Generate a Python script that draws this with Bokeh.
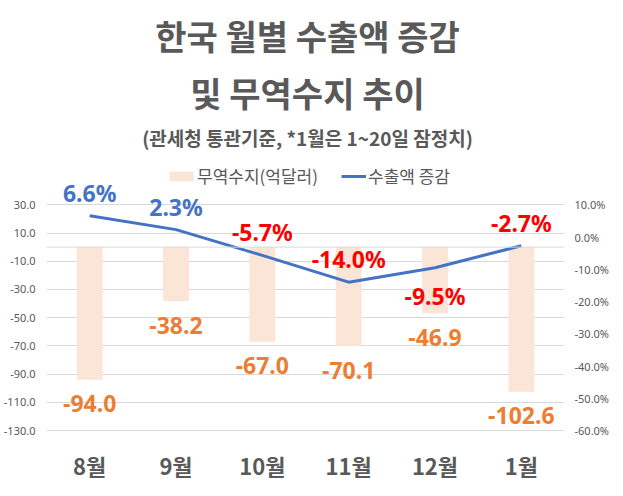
from bokeh.plotting import figure
from bokeh.models import (Range1d, LinearAxis, FixedTicker, PrintfTickFormatter,
                          ColumnDataSource, Span, Label, Legend, LegendItem)
from bokeh.core.properties import value
from bokeh.embed import file_html
from bokeh.resources import INLINE

# ---- data ----
months = ["8월", "9월", "10월", "11월", "12월", "1월"]
trade_balance = [-94.0, -38.2, -67.0, -70.1, -46.9, -102.6]   # 무역수지 (억달러)
export_growth = [6.6, 2.3, -5.7, -14.0, -9.5, -2.7]            # 수출액 증감 (%)
left_ticks = [30, 10, -10, -30, -50, -70, -90, -110, -130]
right_ticks = [10, 0, -10, -20, -30, -40, -50, -60]
title_lines = ["한국 월별 수출액 증감", "및 무역수지 추이",
               "(관세청 통관기준, *1월은 1~20일 잠정치)"]
legend_labels = ["무역수지(억달러)", "수출액 증감"]

# ---- layout / style ----
FRAME_W, FRAME_H = 518, 437
L_TOP, L_BOT = 169.16, -140.63
R_TOP, R_BOT = 70.88, -64.65
GRAY = "#595959"
NUM = value("Noto Sans")
growth_label_below = [False, False, False, False, True, False]


def y_at(px):
    """data value of the left range at px pixels below the frame top"""
    return L_TOP - px * (L_TOP - L_BOT) / FRAME_H


src = ColumnDataSource(dict(
    month=months,
    trade=trade_balance,
    trade_txt=[f"{v:.1f}" for v in trade_balance],
    growth=export_growth,
    growth_txt=[f"{v:.1f}%" for v in export_growth],
    growth_color=["#4472C4" if v >= 0 else "#FF0000" for v in export_growth],
    growth_off=[28 if b else -23 for b in growth_label_below],
))

p = figure(x_range=months, y_range=Range1d(L_BOT, L_TOP),
           frame_width=FRAME_W, frame_height=FRAME_H,
           min_border_left=44, min_border_right=45, min_border_top=8, min_border_bottom=35,
           output_backend="svg", toolbar_location=None, tools="",
           background_fill_color="white", border_fill_color="white")
p.outline_line_color = None
p.extra_y_ranges = {"pct": Range1d(R_BOT, R_TOP)}

# left axis
ya = p.yaxis[0]
ya.ticker = FixedTicker(ticks=left_ticks)
ya.formatter = PrintfTickFormatter(format="%.1f")
right = LinearAxis(y_range_name="pct", ticker=FixedTicker(ticks=right_ticks),
                   formatter=PrintfTickFormatter(format="%.1f%%"))
p.add_layout(right, "right")
for ax, so in ((ya, 11), (right, 10)):
    ax.axis_line_color = None
    ax.major_tick_line_color = None
    ax.minor_tick_line_color = None
    ax.major_tick_out = 0
    ax.minor_tick_out = 0
    ax.major_label_standoff = so
    ax.major_label_text_font = "Noto Sans"
    ax.major_label_text_font_size = "11px"
    ax.major_label_text_color = GRAY

xa = p.xaxis[0]
xa.axis_line_color = None
xa.major_tick_line_color = None
xa.major_tick_out = 0
xa.major_label_standoff = 3
xa.major_label_text_font = "Noto Sans CJK KR"
xa.major_label_text_font_style = "bold"
xa.major_label_text_font_size = "22px"
xa.major_label_text_color = GRAY

p.xgrid.grid_line_color = None
p.ygrid.grid_line_color = "#D9D9D9"
p.ygrid.grid_line_width = 1

p.add_layout(Span(location=0, dimension="width", line_color="#D9D9D9", line_width=1))

bars = p.vbar(x="month", top="trade", width=0.3, source=src,
              fill_color="#FBE5D6", line_color=None)
line = p.line(x="month", y="growth", source=src, y_range_name="pct",
              line_color="#4472C4", line_width=3)

p.text(x="month", y="trade", text="trade_txt", source=src,
       text_color="#ED7D31", text_font=NUM, text_font_style="bold",
       text_font_size="23px", text_align="center", text_baseline="middle", y_offset=24)
p.text(x="month", y="growth", text="growth_txt", source=src, y_range_name="pct",
       text_color="growth_color", text_font=NUM, text_font_style="bold",
       text_font_size="23px", text_align="center", text_baseline="middle",
       y_offset="growth_off")

# titles
for txt, px, size in zip(title_lines, [27, 84, 129], ["34px", "34px", "19px"]):
    p.add_layout(Label(x=3, y=y_at(px), text=txt, text_align="center",
                       text_baseline="middle", x_offset=2, text_font="Noto Sans CJK KR",
                       text_font_style="bold", text_font_size=size, text_color=GRAY))

# legends
common = dict(orientation="horizontal", padding=0, margin=0, border_line_color=None,
              background_fill_alpha=0, label_text_font="Noto Sans CJK KR",
              label_text_font_size="17px", label_text_color=GRAY, glyph_height=12)
leg1 = Legend(items=[LegendItem(label=legend_labels[0], renderers=[bars])],
              location=(120, 257), glyph_width=30, label_standoff=1, **common)
leg2 = Legend(items=[LegendItem(label=legend_labels[1], renderers=[line])],
              location=(295, 257), glyph_width=25, label_standoff=2, **common)
p.add_layout(leg1)
p.add_layout(leg2)

open("out.html", "w").write(file_html(p, INLINE))
